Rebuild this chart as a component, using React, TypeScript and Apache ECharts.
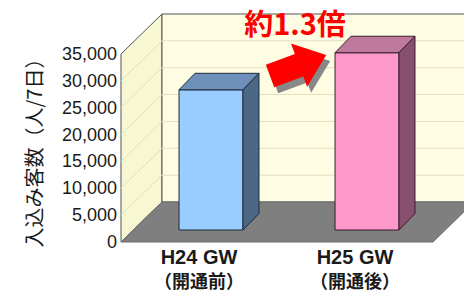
import React, { useEffect, useRef } from 'react';
import * as echarts from 'echarts';

// ---- data ----
const categories = ['H24 GW', 'H25 GW'];
const subLabels = ['（開通前）', '（開通後）'];
const visitors = [26100, 33000];
const yTicks = [0, 5000, 10000, 15000, 20000, 25000, 30000, 35000];
const yAxisName = '入込み客数（人/7日）';
const ratioText = '約1.3倍';

// ---- styles ----
const frontColors = ['#99ccff', '#ff99cc'];
const topColors = ['#6f90ba', '#bd7a9c'];
const sideColors = ['#4d6887', '#87506c'];
const edgeColors = ['#1d2b3b', '#3b1c2c'];

const WALL_DX = 41;
const WALL_DY = 40;
const BAR_OFF = 12;
const BAR_DX = 16;
const BAR_DY = 16.5;

export default function App() {
  const ref = useRef<HTMLDivElement>(null);
  useEffect(() => {
    if (!ref.current) return;
    const chart = echarts.init(ref.current, null, { renderer: 'svg' });
    const yMax = yTicks[yTicks.length - 1];

    const wallSeries = {
      type: 'custom',
      z: 1,
      silent: true,
      data: [[0, 0]],
      renderItem: (params: any, api: any) => {
        const cs = params.coordSys;
        const x0 = cs.x;
        const x1 = cs.x + cs.width;
        const yb = api.coord([0, 0])[1];
        const yt = api.coord([0, yMax])[1];
        const children: any[] = [];
        children.push({
          type: 'polygon',
          shape: { points: [[x0, yb], [x0, yt], [x0 + WALL_DX, yt - WALL_DY], [x0 + WALL_DX, yb - WALL_DY]] },
          style: { fill: '#f8f7d4', stroke: '#555', lineWidth: 1 },
        });
        children.push({
          type: 'polygon',
          shape: { points: [[x0 + WALL_DX, yt - WALL_DY], [x1 + WALL_DX + 40, yt - WALL_DY], [x1 + WALL_DX + 40, yb - WALL_DY], [x0 + WALL_DX, yb - WALL_DY]] },
          style: { fill: '#fefde3', stroke: '#555', lineWidth: 1 },
        });
        yTicks.forEach((v) => {
          if (v === 0 || v === yMax) return;
          const y = api.coord([0, v])[1];
          children.push({
            type: 'polyline',
            shape: { points: [[x0, y], [x0 + WALL_DX, y - WALL_DY], [x1 + WALL_DX + 40, y - WALL_DY]] },
            style: { stroke: '#e2dfbd', lineWidth: 1, fill: null },
          });
        });
        children.push({
          type: 'polygon',
          shape: { points: [[x0, yb], [x1, yb], [x1 + WALL_DX, yb - WALL_DY], [x0 + WALL_DX, yb - WALL_DY]] },
          style: { fill: '#7f7f7f', stroke: '#6a6a6a', lineWidth: 1 },
        });
        return { type: 'group', children };
      },
    };

    const barSeries = {
      type: 'custom',
      z: 5,
      data: visitors.map((v, i) => [i, v]),
      renderItem: (params: any, api: any) => {
        const i = api.value(0);
        const v = api.value(1);
        const base = api.coord([i, 0]);
        const top = api.coord([i, v]);
        const band = api.size([1, 0])[0];
        const w = band * 0.41;
        const xl = base[0] - w / 2 + BAR_OFF;
        const xr = xl + w;
        const yb = base[1] - BAR_OFF;
        const yt = top[1] - BAR_OFF;
        const idx = params.dataIndex;
        const stroke = edgeColors[idx];
        return {
          type: 'group',
          children: [
            {
              type: 'polygon',
              shape: { points: [[xl, yb], [xl, yt], [xr, yt], [xr, yb]] },
              style: { fill: frontColors[idx], stroke, lineWidth: 1 },
            },
            {
              type: 'polygon',
              shape: { points: [[xl, yt], [xr, yt], [xr + BAR_DX, yt - BAR_DY], [xl + BAR_DX, yt - BAR_DY]] },
              style: { fill: topColors[idx], stroke, lineWidth: 1 },
            },
            {
              type: 'polygon',
              shape: { points: [[xr, yb], [xr, yt], [xr + BAR_DX, yt - BAR_DY], [xr + BAR_DX, yb - BAR_DY]] },
              style: { fill: sideColors[idx], stroke, lineWidth: 1 },
            },
          ],
        };
      },
    };

    const arrowShape = () => [[0, -12], [31, -12], [31, -23], [60, 0], [31, 23], [31, 12], [0, 12]];
    const rot = (20.5 * Math.PI) / 180;

    chart.setOption({
      animation: false,
      grid: { left: 121, right: 31, top: 54, bottom: 51, containLabel: false },
      xAxis: {
        type: 'category',
        data: categories,
        axisLine: { show: false },
        axisTick: { show: false },
        axisLabel: {
          margin: 3,
          interval: 0,
          formatter: (val: string, idx: number) => `{a|${val}}\n{b|${subLabels[idx]}}`,
          rich: {
            a: { fontFamily: 'Liberation Sans', fontSize: 20, fontWeight: 'bold', color: '#1a1a1a', lineHeight: 24 },
            b: { fontFamily: '"Noto Sans CJK JP"', fontSize: 18, fontWeight: 'bold', color: '#1a1a1a', lineHeight: 22 },
          },
        },
      },
      yAxis: {
        type: 'value',
        min: 0,
        max: yTicks[yTicks.length - 1],
        interval: yTicks[1] - yTicks[0],
        name: yAxisName,
        nameLocation: 'middle',
        nameRotate: 90,
        nameGap: 78,
        nameTextStyle: { fontFamily: '"Noto Sans CJK JP"', fontSize: 20, color: '#1a1a1a' },
        axisLine: { show: false },
        axisTick: { show: false },
        splitLine: { show: false },
        axisLabel: {
          margin: 4,
          fontFamily: 'Liberation Sans',
          fontSize: 18,
          color: '#1a1a1a',
          formatter: (v: number) => v.toLocaleString('en-US'),
        },
      },
      graphic: [
        {
          type: 'polygon',
          x: 274,
          y: 82,
          rotation: rot,
          z: 20,
          shape: { points: arrowShape() },
          style: { fill: '#888888' },
        },
        {
          type: 'polygon',
          x: 270,
          y: 76,
          rotation: rot,
          z: 21,
          shape: { points: arrowShape() },
          style: { fill: '#ff0000' },
        },
        {
          type: 'text',
          x: 295,
          y: 22,
          z: 20,
          style: {
            text: ratioText,
            fill: '#ff0000',
            fontSize: 29,
            fontWeight: 'bold',
            fontFamily: '"Noto Sans CJK JP"',
            align: 'center',
            verticalAlign: 'middle',
          },
        },
      ],
      series: [wallSeries, barSeries],
    });
    return () => chart.dispose();
  }, []);
  return <div ref={ref} style={{ width: 464, height: 293, position: 'absolute', left: 0, top: 0 }} />;
}
